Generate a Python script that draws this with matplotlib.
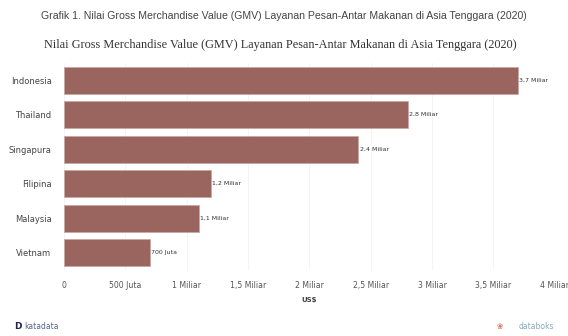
import matplotlib
matplotlib.use("Agg")
from matplotlib import pyplot as plt

negara = ["Indonesia", "Thailand", "Singapura", "Filipina", "Malaysia", "Vietnam"]
gmv = [3.7, 2.8, 2.4, 1.2, 1.1, 0.7]  # miliar US$
label_nilai = ["3,7 Miliar", "2,8 Miliar", "2,4 Miliar", "1,2 Miliar", "1,1 Miliar", "700 Juta"]
tick_pos = [0, 0.5, 1, 1.5, 2, 2.5, 3, 3.5, 4]
tick_label = ["0", "500 Juta", "1 Miliar", "1,5 Miliar", "2 Miliar", "2,5 Miliar",
              "3 Miliar", "3,5 Miliar", "4 Miliar"]

fig = plt.figure(figsize=(5.68, 3.36), dpi=100)
ax = fig.add_axes([0.1127, 0.196, 0.864, 0.617])

y = list(range(len(negara)))
ax.barh(y, gmv, height=0.78, color="#9a655f", edgecolor="#c9a8a2", linewidth=0.6, zorder=3)
for yi, v, t in zip(y, gmv, label_nilai):
    ax.text(v + 0.01, yi, t, va="center", ha="left", fontsize=4.5, color="#333333")

ax.set_ylim(len(negara) - 0.5, -0.5)
ax.set_yticks(y)
ax.set_yticklabels(negara, fontsize=6, color="#444444")
ax.set_xlim(0, 4)
ax.set_xticks(tick_pos)
ax.set_xticklabels(tick_label, fontsize=5.6, color="#555555")
ax.tick_params(length=0, pad=8)
ax.tick_params(axis="y", pad=9)
ax.grid(axis="x", color="#f2f2f2", linewidth=0.6, zorder=0)
for s in ax.spines.values():
    s.set_visible(False)
ax.set_xlabel("US$", fontsize=5, color="#444444", fontweight="bold", labelpad=5)

fig.text(0.5, 0.952, "Grafik 1. Nilai Gross Merchandise Value (GMV) Layanan Pesan-Antar Makanan di Asia Tenggara (2020)",
         ha="center", va="center", fontsize=7.6, color="#444444", family="Liberation Sans")
fig.text(0.493, 0.866, "Nilai Gross Merchandise Value (GMV) Layanan Pesan-Antar Makanan di Asia Tenggara (2020)",
         ha="center", va="center", fontsize=8.8, color="#333333", family="Liberation Serif")

fig.text(0.025, 0.027, "D", ha="left", va="center", fontsize=6.5, fontweight="bold", color="#222244")
fig.text(0.043, 0.027, "katadata", ha="left", va="center", fontsize=5.5, color="#556688")
fig.text(0.975, 0.027, "databoks", ha="right", va="center", fontsize=5.5, color="#88aabb")
fig.text(0.885, 0.027, "\u2740", ha="right", va="center", fontsize=5.5, color="#e07060")

plt.savefig("out.png", dpi=100)
